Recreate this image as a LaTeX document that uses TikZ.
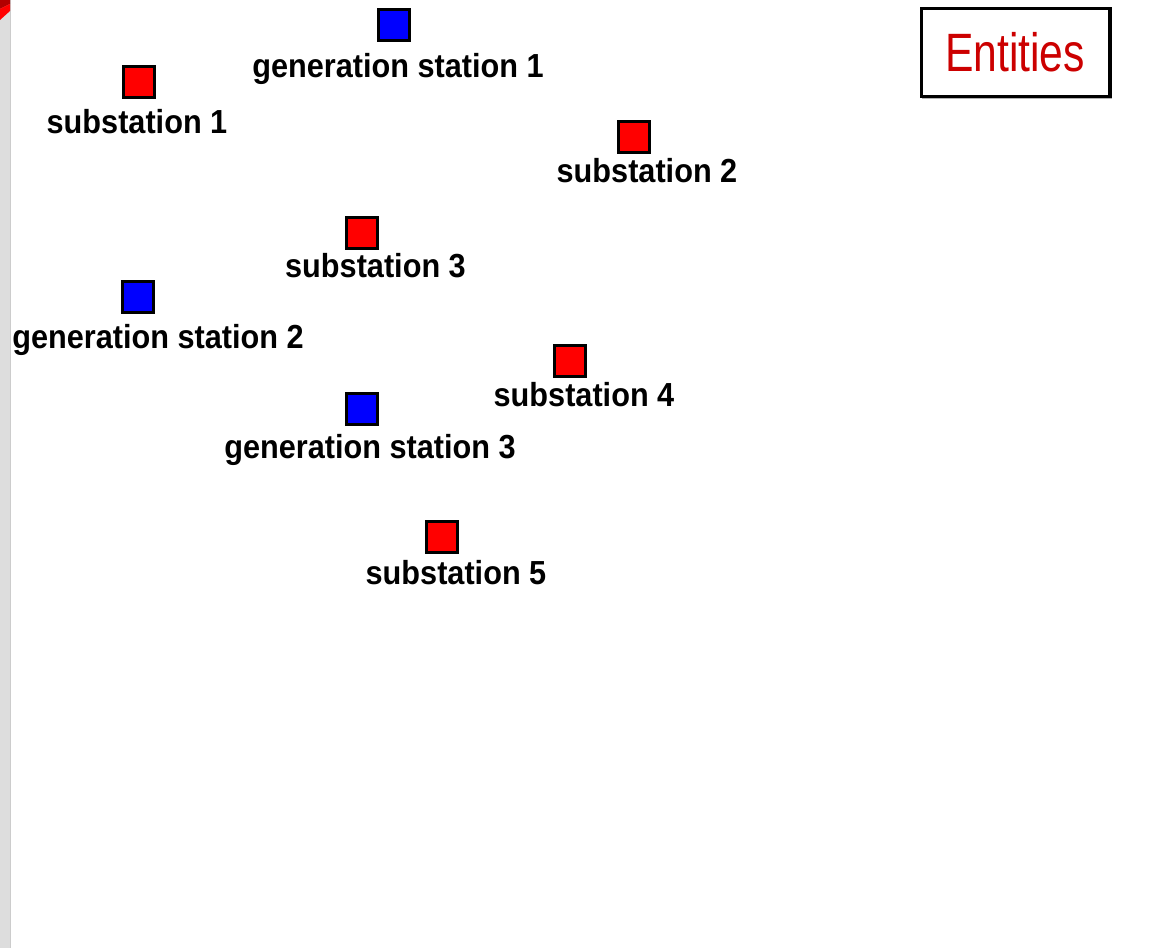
\documentclass[tikz,border=0pt]{standalone}
\usepackage{fontspec}
\setmainfont{Liberation Sans}
\newfontfamily\labfont[FakeStretch=0.92]{Liberation Sans}
\newfontfamily\titfont[FakeStretch=0.79]{Liberation Sans}
\definecolor{sqred}{HTML}{FF0000}
\definecolor{sqblue}{HTML}{0000FF}
\definecolor{titred}{HTML}{CC0000}
\definecolor{strip}{HTML}{DDDDDD}
\begin{document}
\begin{tikzpicture}[x=0.75pt,y=-0.75pt,
  sub/.style={draw=black,line width=2pt,fill=sqred,minimum size=22.8pt,inner sep=0pt,outer sep=0pt},
  gen/.style={sub,fill=sqblue},
  lab/.style={anchor=base,inner sep=0pt,font=\labfont\bfseries\fontsize{25pt}{28pt}\selectfont},
  titlebox/.style={draw=black,line width=2.5pt,fill=white,minimum width=141.5pt,minimum height=66pt,inner sep=0pt}]
\useasboundingbox (0,0) rectangle (1157,948);
\fill[white] (0,0) rectangle (1157,948);
% left strip and corner
\fill[strip] (0,0) rectangle (10,948);
\draw[gray!40,line width=0.4pt] (10,0) -- (10,948);
\fill[red!70!black] (0,0) -- (10,0) -- (10,4) -- (0,9) -- cycle;
\fill[sqred] (0,9) -- (10,4) -- (10,11) -- (0,20) -- cycle;
% title box
\draw[gray!60,line width=1pt] (922,98.5) -- (1112,98.5);
\node[titlebox] (title) at (1015.8,52.2) {};
\node[anchor=base,inner sep=0pt,text=titred,font=\titfont\fontsize{40.5pt}{44pt}\selectfont] (titletext) at (1015,72) {Entities};
% squares
\node[gen] (gs1) at (394,25) {};
\node[sub] (s1) at (139,82) {};
\node[sub] (s2) at (634,137) {};
\node[sub] (s3) at (362,233) {};
\node[gen] (gs2) at (138,297) {};
\node[sub] (s4) at (570,361) {};
\node[gen] (gs3) at (362,409) {};
\node[sub] (s5) at (442,537) {};
% labels
\node[lab] (lgs1) at (398,77.3) {generation station 1};
\node[lab] (ls1) at (137,134) {substation 1};
\node[lab] (ls2) at (647,183) {substation 2};
\node[lab] (ls3) at (375.5,277.7) {substation 3};
\node[lab] (lgs2) at (158,349) {generation station 2};
\node[lab] (ls4) at (584,406.7) {substation 4};
\node[lab] (lgs3) at (370,459) {generation station 3};
\node[lab] (ls5) at (456,584) {substation 5};
\end{tikzpicture}
\end{document}
